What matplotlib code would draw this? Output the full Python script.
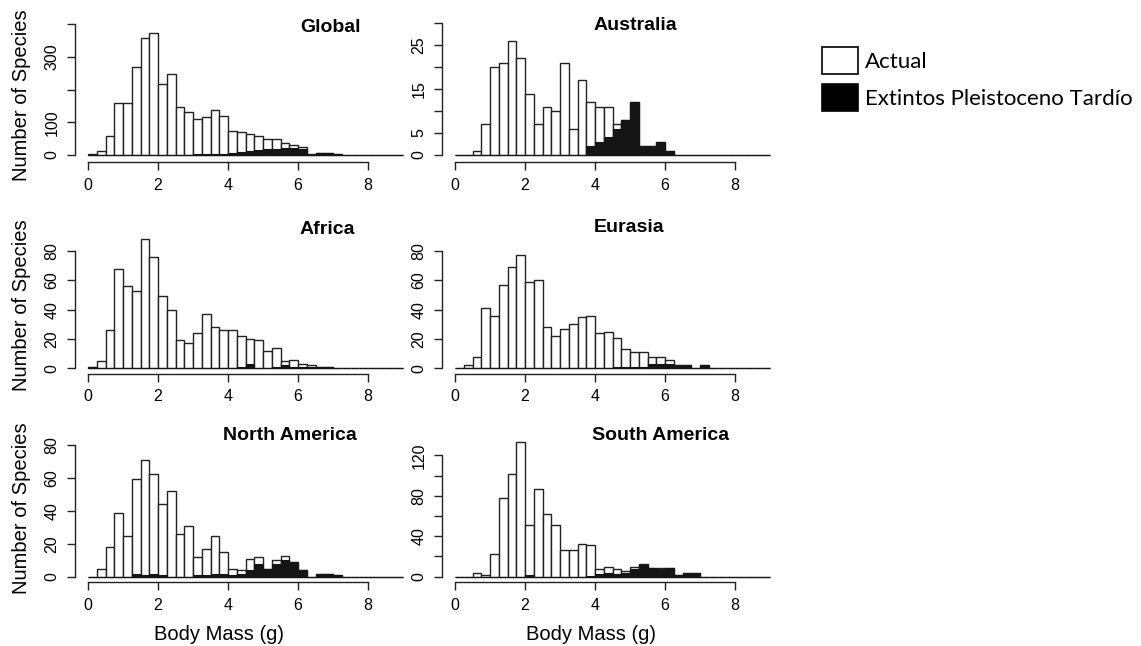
import numpy as np
import matplotlib
matplotlib.use("Agg")
import matplotlib.pyplot as plt
from matplotlib.patches import Patch

plt.rcParams['font.family'] = ['Liberation Sans', 'DejaVu Sans']

# --- data: species counts per 0.25 log body-mass bin, 0 .. 9 ---
bin_width = 0.25
bin_starts = np.arange(0, 9, bin_width)

regions = ['Global', 'Australia', 'Africa', 'Eurasia', 'North America', 'South America']

global_actual = [2, 12, 57, 159, 159, 269, 358, 372, 218, 246, 146, 132, 110, 117, 138, 120,
                 72, 70, 65, 57, 50, 50, 38, 32, 24, 2, 6, 6, 3, 0, 0, 0, 0, 0, 0, 0]
global_extinct = [0, 0, 0, 0, 0, 0, 0, 0, 1, 1, 1, 1, 2, 2, 2, 3,
                  5, 8, 11, 14, 17, 19, 20, 20, 19, 1, 5, 5, 2, 0, 0, 0, 0, 0, 0, 0]

australia_actual = [0, 0, 1, 7, 20, 21, 26, 22, 14, 7, 11, 10, 21, 6, 17, 12,
                    11, 11, 7, 8, 12, 2, 2, 3, 1, 0, 0, 0, 0, 0, 0, 0, 0, 0, 0, 0]
australia_extinct = [0, 0, 0, 0, 0, 0, 0, 0, 0, 0, 0, 0, 0, 0, 0, 2,
                     3, 4, 6, 8, 12, 2, 2, 3, 1, 0, 0, 0, 0, 0, 0, 0, 0, 0, 0, 0]

africa_actual = [1, 5, 26, 68, 56, 53, 88, 76, 49, 40, 19, 17, 24, 37, 28, 26,
                 26, 22, 20, 19, 12, 14, 5, 6, 3, 2, 1, 1, 0, 0, 0, 0, 0, 0, 0, 0]
africa_extinct = [1, 0, 0, 0, 0, 0, 0, 0, 0, 0, 0, 0, 0, 0, 0, 0,
                  0, 1, 3, 0, 0, 1, 2, 1, 1, 1, 1, 1, 0, 0, 0, 0, 0, 0, 0, 0]

eurasia_actual = [0, 2, 8, 41, 36, 57, 69, 77, 59, 60, 28, 22, 27, 30, 35, 36,
                  24, 25, 21, 13, 11, 11, 8, 8, 6, 2, 2, 0, 2, 0, 0, 0, 0, 0, 0, 0]
eurasia_extinct = [0, 0, 0, 0, 0, 0, 0, 0, 0, 0, 0, 0, 0, 0, 0, 0,
                   0, 0, 1, 1, 1, 1, 3, 3, 3, 2, 2, 0, 2, 0, 0, 0, 0, 0, 0, 0]

namerica_actual = [0, 5, 18, 39, 25, 59, 71, 62, 44, 52, 26, 31, 12, 17, 25, 15,
                   5, 4, 11, 12, 5, 10, 13, 9, 4, 0, 2, 2, 1, 0, 0, 0, 0, 0, 0, 0]
namerica_extinct = [0, 0, 0, 0, 0, 2, 1, 2, 1, 0, 0, 0, 1, 1, 2, 2,
                    1, 2, 4, 8, 5, 8, 10, 9, 4, 0, 2, 2, 1, 0, 0, 0, 0, 0, 0, 0]

samerica_actual = [0, 0, 4, 2, 22, 78, 102, 133, 51, 87, 62, 51, 26, 26, 32, 31,
                   8, 10, 8, 6, 10, 13, 9, 9, 9, 2, 4, 4, 0, 0, 0, 0, 0, 0, 0, 0]
samerica_extinct = [0, 0, 0, 0, 0, 0, 0, 0, 2, 0, 0, 0, 0, 0, 0, 1,
                    3, 4, 3, 4, 8, 12, 9, 8, 9, 2, 4, 4, 0, 0, 0, 0, 0, 0, 0, 0]

actual_counts = [global_actual, australia_actual, africa_actual,
                 eurasia_actual, namerica_actual, samerica_actual]
extinct_counts = [global_extinct, australia_extinct, africa_extinct,
                  eurasia_extinct, namerica_extinct, samerica_extinct]

# y axis ticks per panel (tick step, top tick, which labels are printed)
y_steps = [100, 5, 20, 20, 20, 20]
y_tops = [400, 30, 80, 80, 80, 120]
y_shown = [[0, 100, 300], [0, 5, 15, 25], [0, 20, 40, 60, 80], [0, 20, 40, 60, 80],
           [0, 20, 40, 60, 80], [0, 40, 80, 120]]
x_ticks = [0, 2, 4, 6, 8]

legend_labels = ['Actual', 'Extintos Pleistoceno Tardío']

# --- layout (pixels) ---
W, H = 1141, 646
col_lr = [(75.4, 415.6), (442.4, 782.6)]
row_tb = [(12, 162), (218, 373.5), (425, 582)]
zero_px = [155, 155, 368.3, 368.3, 577, 576.7]
top_px = [24, 23.3, 251, 251, 444.7, 455.3]
title_x = [6.94, 5.16, 6.83, 4.97, 5.78, 5.88]
title_y = [27, 26, 229, 228, 435, 435]

edge = '#222222'

fig = plt.figure(figsize=(W / 100, H / 100), dpi=100)

for i, name in enumerate(regions):
    r, c = divmod(i, 2)
    left, right = col_lr[c]
    top, bottom = row_tb[r]
    ax = fig.add_axes([left / W, 1 - bottom / H, (right - left) / W, (bottom - top) / H])

    scale = (zero_px[i] - top_px[i]) / y_tops[i]
    ax.set_ylim(-(bottom - zero_px[i]) / scale, (zero_px[i] - top) / scale)
    ax.set_xlim(-0.36, 9.36)

    ax.bar(bin_starts, actual_counts[i], width=bin_width, align='edge',
           facecolor='white', edgecolor=edge, linewidth=1.0)
    ax.bar(bin_starts, extinct_counts[i], width=bin_width, align='edge',
           facecolor='#151515', edgecolor='#151515', linewidth=0.8)

    for s in ['top', 'right']:
        ax.spines[s].set_visible(False)
    ax.spines['left'].set_bounds(0, y_tops[i])
    ax.spines['bottom'].set_bounds(0, 8)
    for s in ['left', 'bottom']:
        ax.spines[s].set_linewidth(1.0)
        ax.spines[s].set_color(edge)

    yt = list(range(0, y_tops[i] + 1, y_steps[i]))
    ax.set_yticks(yt)
    ax.set_yticklabels([str(v) if v in y_shown[i] else '' for v in yt],
                       rotation=90, va='center', fontsize=11.5)
    ax.set_xticks(x_ticks)
    ax.set_xticklabels([str(v) for v in x_ticks], fontsize=11.5)
    ax.tick_params(direction='out', length=5.5, width=1.0, color=edge, pad=6)

    ty = (bottom - title_y[i]) / (bottom - top)
    ax.text(title_x[i], ty, name, transform=ax.get_xaxis_transform(),
            ha='center', va='center', fontsize=14, fontweight='bold')

    if c == 0:
        ax.set_ylabel('Number of Species', fontsize=14.5, va='center')
        ax.yaxis.set_label_coords((22 - left) / (right - left),
                                  (bottom - [95, 305, 508][r]) / (bottom - top))
    if r == 2:
        ax.set_xlabel('Body Mass (g)', fontsize=14.5, va='center')
        ax.xaxis.set_label_coords(([219, 591][c] - left) / (right - left),
                                  (bottom - 634) / (bottom - top))

handles = [Patch(facecolor='white', edgecolor='black', linewidth=1.2),
           Patch(facecolor='black', edgecolor='black', linewidth=1.2)]
fig.legend(handles, legend_labels, loc='upper left',
           bbox_to_anchor=(822 / W, 1 - 47 / H), frameon=False,
           prop={'family': ['Lato', 'DejaVu Sans'], 'size': 16},
           handlelength=1.6, handleheight=1.5, handletextpad=0.35,
           labelspacing=0.45, borderpad=0, borderaxespad=0)

fig.savefig('out.png', dpi=100)
